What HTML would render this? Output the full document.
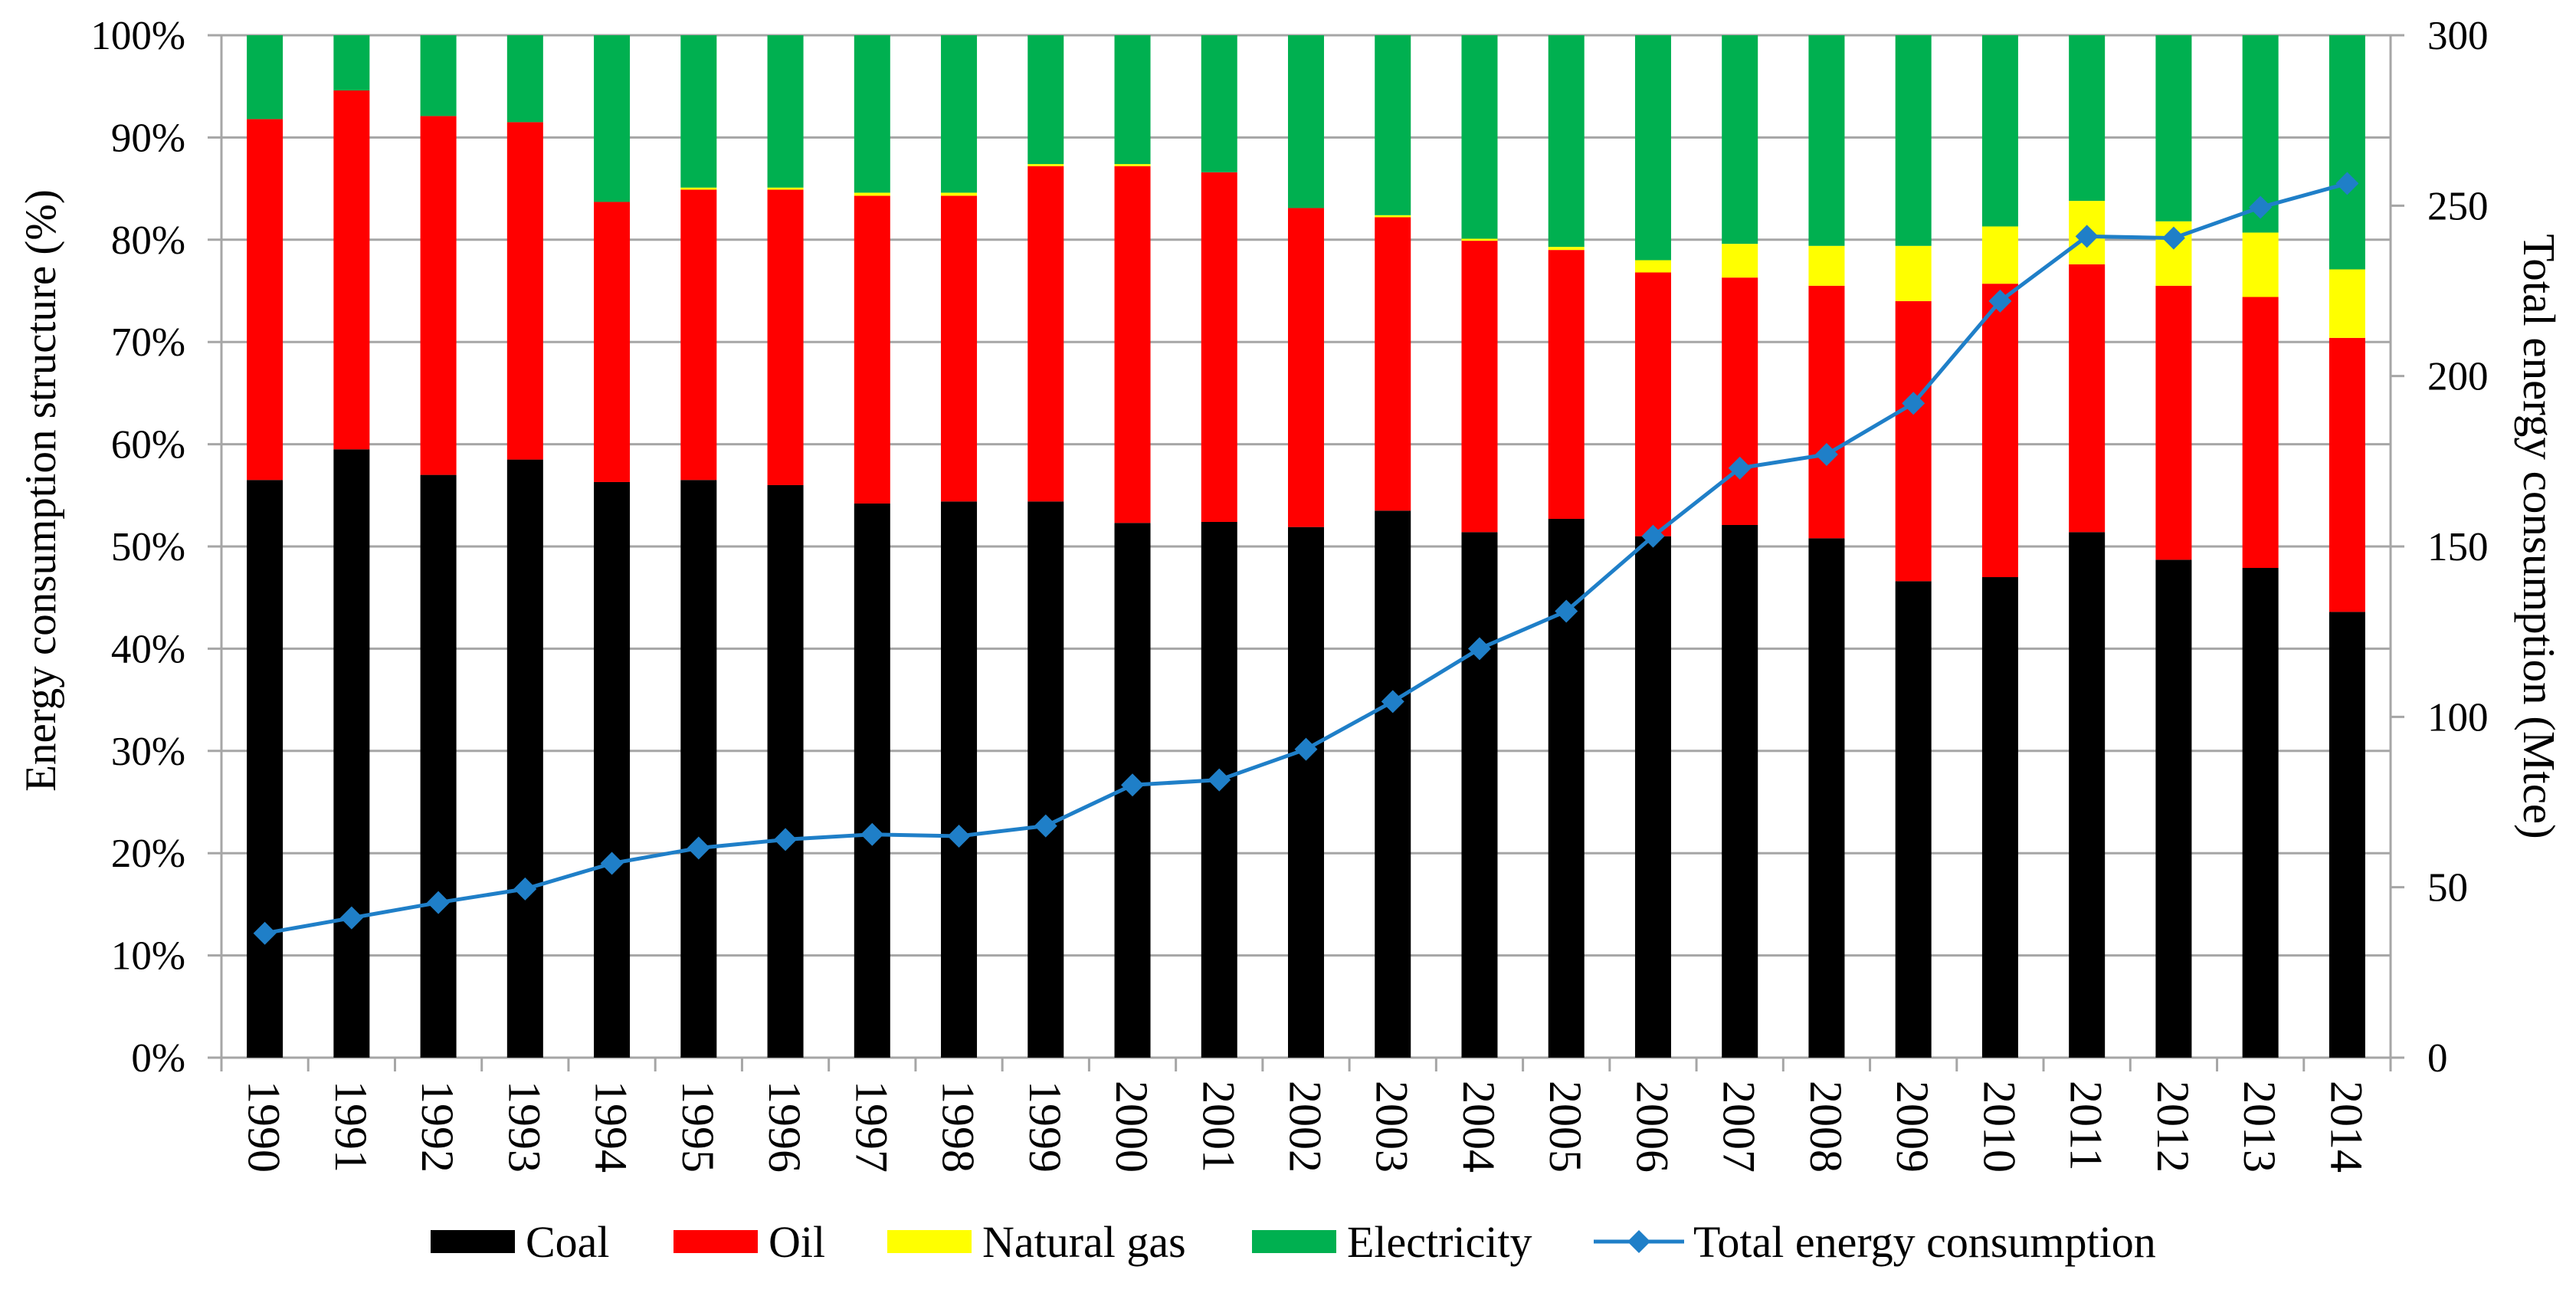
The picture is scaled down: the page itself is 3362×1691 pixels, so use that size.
<!DOCTYPE html>
<html><head><meta charset="utf-8"><style>
html,body{margin:0;padding:0;background:#fff;}
svg{display:block;font-family:"Liberation Serif",serif;}
</style></head><body>
<svg id="chart" width="3362" height="1691" viewBox="0 0 3362 1691" xmlns="http://www.w3.org/2000/svg"></svg>
<script>
const years=['1990','1991','1992','1993','1994','1995','1996','1997','1998','1999','2000','2001','2002','2003','2004','2005','2006','2007','2008','2009','2010','2011','2012','2013','2014'];
const coal=[56.5,59.5,57,58.5,56.3,56.5,56,54.2,54.4,54.4,52.3,52.4,51.9,53.5,51.4,52.7,51,52.1,50.8,46.6,47,51.4,48.7,47.9,43.6];
const oil=[35.3,35.1,35.1,33,27.4,28.4,28.9,30.1,29.9,32.8,34.9,34.2,31.2,28.7,28.5,26.3,25.8,24.2,24.7,27.4,28.7,26.2,26.8,26.5,26.8];
const gas=[0,0,0,0,0,0.2,0.2,0.3,0.3,0.2,0.2,0,0,0.2,0.2,0.3,1.2,3.3,3.9,5.4,5.6,6.2,6.3,6.3,6.7];
const elec=[8.2,5.4,7.9,8.5,16.3,14.9,14.9,15.4,15.4,12.6,12.6,13.4,16.9,17.6,19.9,20.7,22,20.4,20.6,20.6,18.7,16.2,18.2,19.3,22.9];
const total=[36.5,41,45.5,49.5,57,61.5,64,65.5,65,68,80,81.5,90.5,104.5,120,131,153,173,177,192,222,241,240.5,249.5,256.5];
const leftTicks=['0%','10%','20%','30%','40%','50%','60%','70%','80%','90%','100%'];
const rightTicks=['0','50','100','150','200','250','300'];

const svg=document.getElementById('chart');
const NS='http://www.w3.org/2000/svg';
const L=289,R=3120,T=46,B=1380;
const n=years.length, cw=(R-L)/n, bw=47;
const yP=v=>B-(v/100)*(B-T);
const yT=v=>B-(v/300)*(B-T);
const xC=i=>L+cw*(i+0.5);
function mk(tag,attrs,parent){const e=document.createElementNS(NS,tag);for(const k in attrs)e.setAttribute(k,attrs[k]);(parent||svg).appendChild(e);return e;}

for(let i=0;i<leftTicks.length;i++){
  const y=yP(i*10);
  const g=mk('line',{x1:L-18,x2:R,y1:y,y2:y,stroke:'#a6a6a6','stroke-width':3});
  
  
  const t=mk('text',{x:242,y:y+18,'text-anchor':'end','font-size':53,fill:'#000'});
  t.textContent=leftTicks[i];
  
  
}
for(let i=0;i<rightTicks.length;i++){
  const y=yT(+rightTicks[i]);
  const tk=mk('line',{x1:R,x2:R+18,y1:y,y2:y,stroke:'#a6a6a6','stroke-width':3});
  
  
  const t=mk('text',{x:3168,y:y+18,'text-anchor':'start','font-size':53,fill:'#000'});
  t.textContent=rightTicks[i];
  
  
}
const la=mk('line',{x1:L,x2:L,y1:T,y2:B,stroke:'#a6a6a6','stroke-width':3});

const ra=mk('line',{x1:R,x2:R,y1:T,y2:B,stroke:'#a6a6a6','stroke-width':3});

for(let i=0;i<=n;i++){
  const x=L+cw*i;
  const tk=mk('line',{x1:x,x2:x,y1:B,y2:B+18,stroke:'#a6a6a6','stroke-width':3});
  
  
}
const series=[['coal',coal,'#000000'],['oil',oil,'#ff0000'],['natural-gas',gas,'#ffff00'],['electricity',elec,'#00b050']];
for(let i=0;i<n;i++){
  let acc=0;
  for(const [nm,arr,col] of series){
    const v=arr[i];
    if(v>0){
      const r=mk('rect',{x:xC(i)-bw/2,y:yP(acc+v),width:bw,height:yP(acc)-yP(acc+v),fill:col});
      
      
    }
    acc+=v;
  }
  const t=mk('text',{x:0,y:0,'font-size':60,fill:'#000',transform:`translate(${xC(i)-21},1410) rotate(90)`});
  t.textContent=years[i];
  
  
}
let d='';
for(let i=0;i<n;i++){d+=(i?'L':'M')+xC(i)+','+yT(total[i]);}
const pl=mk('path',{d:d,fill:'none',stroke:'#1f7fc8','stroke-width':5});


for(let i=0;i<n;i++){
  const x=xC(i),y=yT(total[i]),s=15;
  const p=mk('path',{d:`M${x},${y-s}L${x+s},${y}L${x},${y+s}L${x-s},${y}Z`,fill:'#1f7fc8'});
  
  
}
const lt=mk('text',{x:0,y:0,'font-size':57,fill:'#000','text-anchor':'middle',transform:`translate(72,640) rotate(-90)`});
lt.textContent='Energy consumption structure (%)';

const rt=mk('text',{x:0,y:0,'font-size':59,fill:'#000','text-anchor':'middle',transform:`translate(3294,700) rotate(90)`});
rt.textContent='Total energy consumption (Mtce)';

const leg=[['Coal','#000000',562],['Oil','#ff0000',879],['Natural gas','#ffff00',1158],['Electricity','#00b050',1634]];
const ly=1620;
for(const [lab,col,x] of leg){
  const r=mk('rect',{x:x,y:ly-15,width:110,height:30,fill:col});
  
  
  const t=mk('text',{x:x+124,y:ly+20,'font-size':58,fill:'#000'});
  t.textContent=lab;
  
  
}
const ll=mk('line',{x1:2080,x2:2198,y1:ly,y2:ly,stroke:'#1f7fc8','stroke-width':5});

const ld=mk('path',{d:`M2139,${ly-15}L2154,${ly}L2139,${ly+15}L2124,${ly}Z`,fill:'#1f7fc8'});

const lt2=mk('text',{x:2210,y:ly+20,'font-size':58,fill:'#000'});
lt2.textContent='Total energy consumption';

</script>
</body></html>
